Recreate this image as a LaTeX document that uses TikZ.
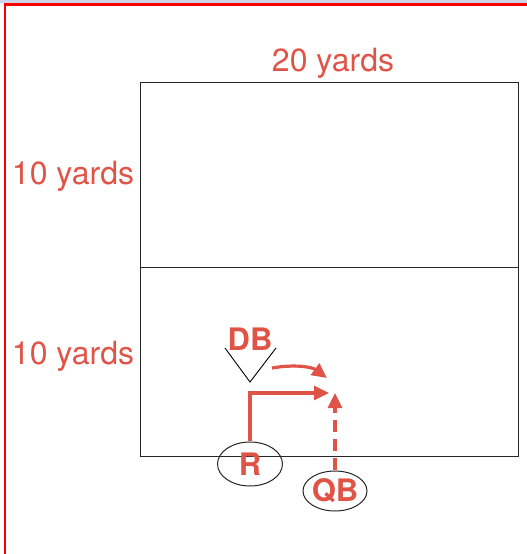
\documentclass[tikz,border=0pt]{standalone}
\usepackage{fontspec}
\setmainfont{TeX Gyre Heros}
\usetikzlibrary{shapes.geometric,arrows.meta}
\definecolor{lbl}{RGB}{224,84,72}
\definecolor{topstrip}{RGB}{205,214,232}
\tikzset{
  lab/.style={text=lbl,font=\fontsize{32}{34}\selectfont,inner sep=0pt},
  player/.style={text=lbl,font=\fontsize{31}{32}\selectfont\bfseries,inner sep=0pt},
  posbox/.style={draw=black!85,line width=1pt,ellipse},
  route/.style={draw=lbl,line width=3.2pt,-{Triangle[length=15pt,width=14pt]}},
}
\begin{document}
\begin{tikzpicture}[x=1pt,y=-1pt]
\useasboundingbox (0,0) rectangle (527,554);
\fill[topstrip] (0,0) rectangle (527,3);
\draw[red,line width=2.2pt] (5,560) -- (5,4.5) -- (535,4.5);
% field
\draw[black!85,line width=0.8pt] (140,82) rectangle (518,456);
\draw[black!85,line width=0.8pt] (140,267) -- (518,267);
\node[lab] (w) at (333,63) {20 yards};
\node[lab] (h1) at (73,176) {10 yards};
\node[lab] (h2) at (73,356) {10 yards};
% DB
\node[player] (db) at (250,339) {DB};
\coordinate (vl) at (225,348);
\coordinate (vb) at (250,382);
\coordinate (vr) at (276,348);
\draw[black,line width=0.9pt] (vl) -- (vb) -- (vr);
% receivers
\node[posbox,minimum width=65pt,minimum height=44pt] (r) at (250,464) {};
\node[player] (rt) at (250,464) {R};
\node[posbox,minimum width=64pt,minimum height=40pt] (qb) at (335,491) {};
\node[player] (qbt) at (335,491) {QB};
\coordinate (rs) at (250,441);
\coordinate (rc) at (250,393);
\coordinate (re) at (329,393);
\draw[route] (rs) -- (rc) -- (re);
\coordinate (qs) at (335,470);
\coordinate (qe) at (335,393);
\draw[route,dash pattern=on 12pt off 7pt] (qs) -- (qe);
\coordinate (cs) at (272,368);
\coordinate (ce) at (327,378);
\draw[route] (cs) .. controls (295,364) and (312,367) .. (ce);
\end{tikzpicture}
\end{document}
